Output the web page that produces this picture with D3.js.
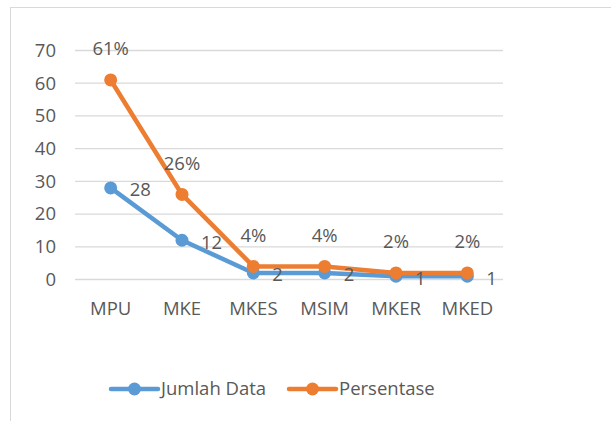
<!DOCTYPE html>
<html>
<head>
<meta charset="utf-8">
<script src="https://cdn.jsdelivr.net/npm/d3@7"></script>
<style>
  body { margin: 0; background: #fff; }
  text { font-family: "Open Sans", sans-serif; fill: #595959; }
</style>
</head>
<body>
<div id="chart"></div>
<script>
// DATA
var categories = ["MPU", "MKE", "MKES", "MSIM", "MKER", "MKED"];
var jumlahData = [28, 12, 2, 2, 1, 1];
var persentase = [61, 26, 4, 4, 2, 2];
var yTicks = [0, 10, 20, 30, 40, 50, 60, 70];
var seriesNames = ["Jumlah Data", "Persentase"];

var svgWidth = 611, svgHeight = 421;
var blue = "#5B9BD5", orange = "#ED7D31";
var fontSize = "18.5px";

var svg = d3.select("#chart").append("svg")
  .attr("width", svgWidth)
  .attr("height", svgHeight);

// chart border (only left and top are visible in the frame)
svg.append("rect")
  .attr("x", 10.5).attr("y", 7.5)
  .attr("width", 640).attr("height", 460)
  .attr("fill", "none")
  .attr("stroke", "#d9d9d9")
  .attr("stroke-width", 1);

// SCALES
var x = d3.scaleBand().domain(categories).range([75, 503]);
var y = d3.scaleLinear().domain([0, 70]).range([279.5, 50.5]);
var cx = function(c) { return x(c) + x.bandwidth() / 2; };

// GRIDLINES
svg.append("g").selectAll("line")
  .data(yTicks)
  .enter().append("line")
  .attr("x1", 75).attr("x2", 503)
  .attr("y1", d => y(d)).attr("y2", d => y(d))
  .attr("stroke", "#d9d9d9")
  .attr("stroke-width", 1.3);

// Y AXIS
var yAxis = svg.append("g")
  .attr("transform", "translate(62,0)")
  .call(d3.axisLeft(y).tickValues(yTicks).tickSize(0).tickPadding(6));
yAxis.select(".domain").remove();
yAxis.selectAll("text")
  .style("font-size", fontSize)
  .style("font-family", "'Open Sans', sans-serif")
  .attr("fill", "#595959");

// X AXIS
var xAxis = svg.append("g")
  .attr("transform", "translate(0,298)")
  .call(d3.axisBottom(x).tickSize(0).tickPadding(4));
xAxis.select(".domain").remove();
xAxis.selectAll("text")
  .style("font-size", fontSize)
  .style("font-family", "'Open Sans', sans-serif")
  .attr("fill", "#595959");

// LINES
var line = d3.line()
  .x((d, i) => cx(categories[i]))
  .y(d => y(d));

function drawSeries(values, color) {
  svg.append("path")
    .datum(values)
    .attr("d", line)
    .attr("fill", "none")
    .attr("stroke", color)
    .attr("stroke-width", 4.5)
    .attr("stroke-linejoin", "round");
  svg.append("g").selectAll("circle")
    .data(values)
    .enter().append("circle")
    .attr("cx", (d, i) => cx(categories[i]))
    .attr("cy", d => y(d))
    .attr("r", 6.5)
    .attr("fill", color);
}
drawSeries(jumlahData, blue);
drawSeries(persentase, orange);

// DATA LABELS
svg.append("g").selectAll("text")
  .data(jumlahData)
  .enter().append("text")
  .attr("x", (d, i) => cx(categories[i]) + 19)
  .attr("y", d => y(d) + 2)
  .attr("dy", "0.35em")
  .style("font-size", fontSize)
  .text(d => d);

svg.append("g").selectAll("text")
  .data(persentase)
  .enter().append("text")
  .attr("x", (d, i) => cx(categories[i]))
  .attr("y", d => y(d) - 31)
  .attr("dy", "0.35em")
  .attr("text-anchor", "middle")
  .style("font-size", fontSize)
  .text(d => d + "%");

// LEGEND
var legend = svg.append("g");
var legendItems = [
  { name: seriesNames[0], color: blue, x0: 111 },
  { name: seriesNames[1], color: orange, x0: 289 }
];
legendItems.forEach(function(item) {
  var ly = 389;
  legend.append("line")
    .attr("x1", item.x0).attr("x2", item.x0 + 47)
    .attr("y1", ly).attr("y2", ly)
    .attr("stroke", item.color)
    .attr("stroke-width", 4.5)
    .attr("stroke-linecap", "round");
  legend.append("circle")
    .attr("cx", item.x0 + 23.5).attr("cy", ly)
    .attr("r", 6.5)
    .attr("fill", item.color);
  legend.append("text")
    .attr("x", item.x0 + 50)
    .attr("y", ly)
    .attr("dy", "0.35em")
    .style("font-size", fontSize)
    .text(item.name);
});
</script>
</body>
</html>
